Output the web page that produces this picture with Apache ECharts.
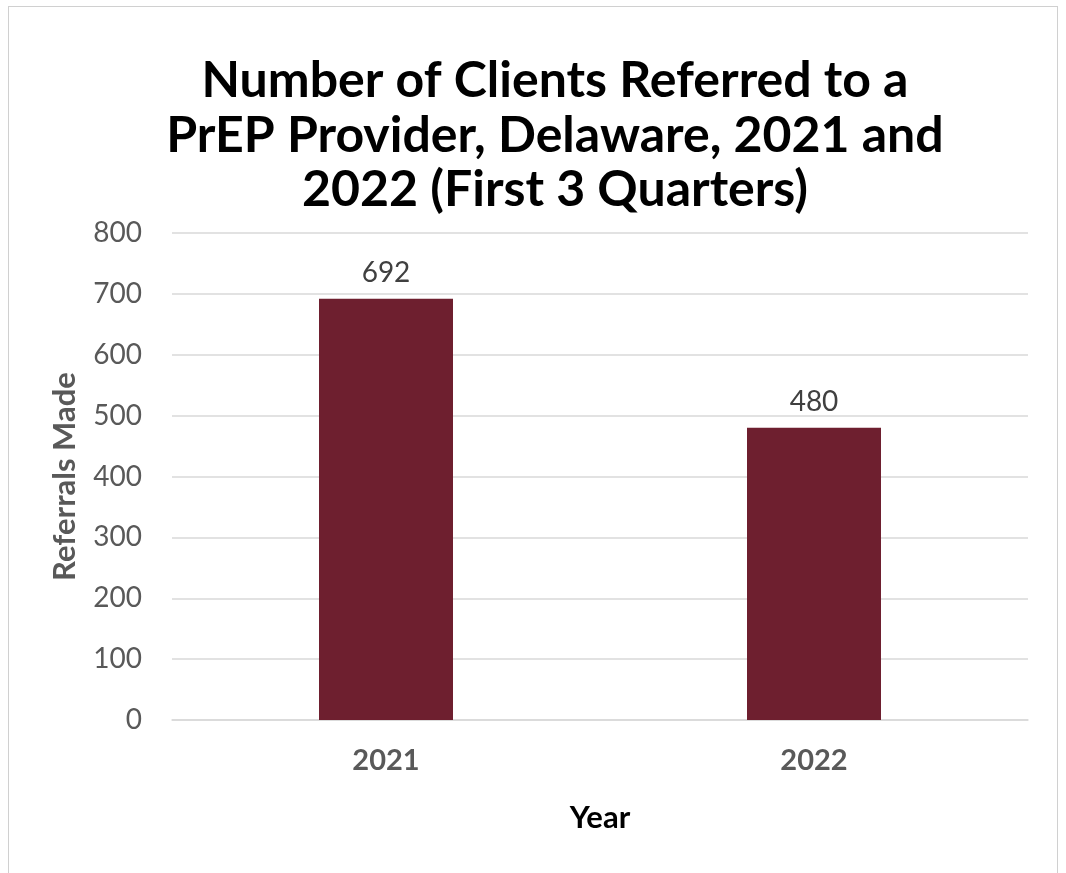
<!DOCTYPE html>
<html>
<head>
<meta charset="utf-8">
<style>
  html, body { margin: 0; padding: 0; background: #fff; }
  #frame { position: absolute; left: 8px; top: 6px; width: 1050px; height: 900px; border: 1px solid #d0d0d0; border-bottom: none; box-sizing: border-box; }
  #container { position: absolute; left: 0; top: 0; width: 1066px; height: 873px; }
</style>
<script src="https://cdn.jsdelivr.net/npm/echarts@6/dist/echarts.min.js"></script>
</head>
<body>
<div id="frame"></div>
<div id="container"></div>
<script>
// data
var years = ['2021', '2022'];
var referrals = [692, 480];

var chart = echarts.init(document.getElementById('container'));

var option = {
  animation: false,
  textStyle: { fontFamily: 'Lato' },
  title: {
    text: 'Number of Clients Referred to a\nPrEP Provider, Delaware, 2021 and\n2022 (First 3 Quarters)',
    left: 550,
    top: 49,
    textAlign: 'center',
    textStyle: {
      fontFamily: 'Lato',
      fontWeight: 'bold',
      fontSize: 50,
      lineHeight: 54.5,
      color: '#000'
    }
  },
  grid: {
    left: 172,
    right: 38,
    top: 233,
    bottom: 153,
    containLabel: false
  },
  xAxis: {
    type: 'category',
    data: years,
    name: 'Year',
    nameLocation: 'middle',
    nameGap: 82,
    nameTextStyle: { fontSize: 31, fontWeight: 'bold', color: '#000' },
    axisLine: { lineStyle: { color: '#d9d9d9', width: 1.5 } },
    axisTick: { show: false },
    axisLabel: { fontSize: 29, fontWeight: 'bold', color: '#595959', margin: 26 }
  },
  yAxis: {
    type: 'value',
    min: 0,
    max: 800,
    interval: 100,
    name: 'Referrals Made',
    nameLocation: 'middle',
    nameGap: 92,
    nameTextStyle: { fontSize: 31, fontWeight: 'bold', color: '#595959' },
    axisLine: { show: false },
    axisTick: { show: false },
    axisLabel: { fontSize: 28, color: '#595959', margin: 30 },
    splitLine: { lineStyle: { color: '#d9d9d9', width: 1.5 } }
  },
  series: [
    {
      type: 'bar',
      data: referrals,
      barWidth: 134,
      itemStyle: { color: '#6e1f2f' },
      label: {
        show: true,
        position: 'top',
        distance: 12,
        fontSize: 28,
        color: '#404040'
      }
    }
  ]
};

chart.setOption(option);
</script>
</body>
</html>
